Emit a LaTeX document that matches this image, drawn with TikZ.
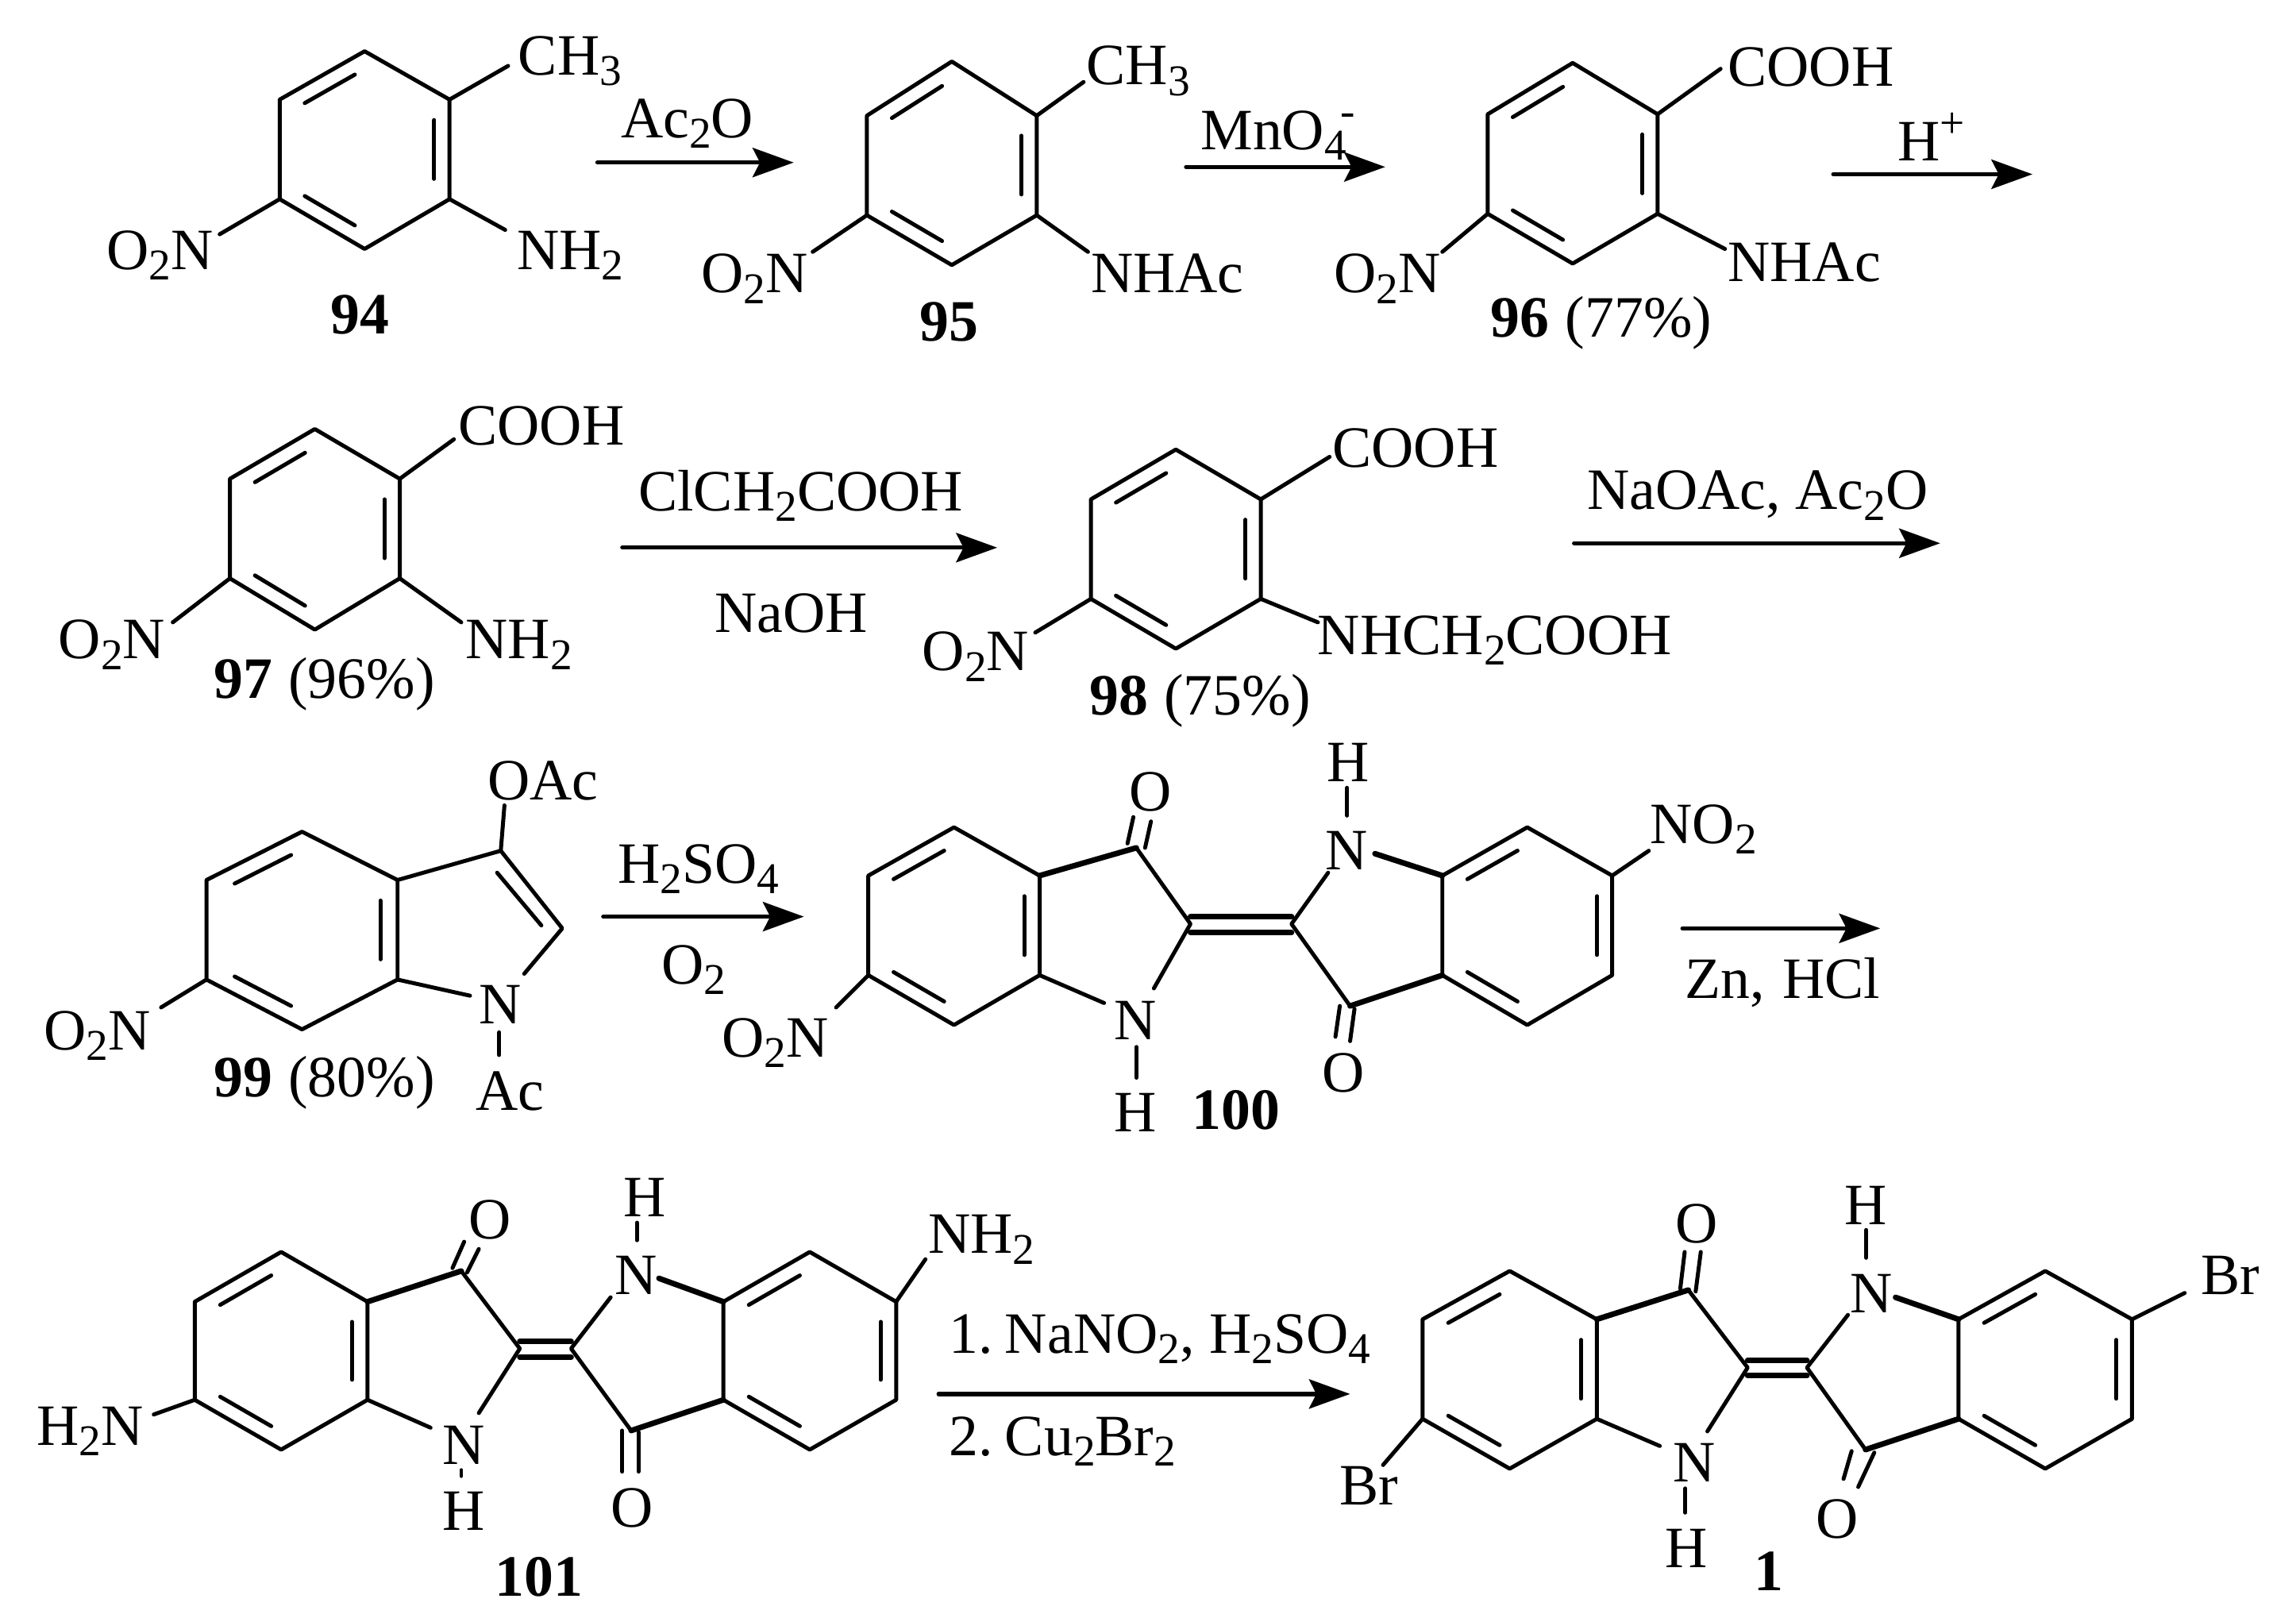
\documentclass[tikz,border=0pt]{standalone}
\usepackage{fontspec}
\setmainfont{Liberation Serif}
\usetikzlibrary{calc,arrows.meta}
\newcommand\sbb[1]{\raisebox{-3.6pt}{\fontsize{15pt}{15pt}\selectfont #1}}
\newcommand\spp[1]{\raisebox{8pt}{\fontsize{15pt}{15pt}\selectfont #1}}
\tikzset{
  bond/.style={line width=1.35pt,line cap=round,line join=round},
  hbond/.style={line width=1.9pt,line cap=round},
  rxnarrow/.style={line width=1.45pt,line cap=round,-{Stealth[length=14pt,width=10pt,inset=2.5pt]}},
  lab/.style={inner sep=0pt,outer sep=0pt,anchor=base west,font=\fontsize{20pt}{22pt}\selectfont}
}
% inner line of a double bond a-b, towards centre c
\newcommand\innerln[3]{%
  \coordinate (tmpa) at ($(#1)!.14!(#2)$);
  \coordinate (tmpb) at ($(#2)!.14!(#1)$);
  \draw[bond] ($(tmpa)!.18!(#3)$) -- ($(tmpb)!.18!(#3)$);}
% benzene ring: prefix, xl, xr, ytop, yupper, ylower, ybottom
\newcommand\ringat[7]{%
  \coordinate (#1t) at ({(#2+#3)/2},#4);
  \coordinate (#1ur) at (#3,#5);
  \coordinate (#1lr) at (#3,#6);
  \coordinate (#1b) at ({(#2+#3)/2},#7);
  \coordinate (#1ll) at (#2,#6);
  \coordinate (#1ul) at (#2,#5);
  \coordinate (#1c) at ({(#2+#3)/2},{(#4+#7)/2});
  \draw[bond] (#1t) -- (#1ur) -- (#1lr) -- (#1b) -- (#1ll) -- (#1ul) -- cycle;
  \innerln{#1ul}{#1t}{#1c}
  \innerln{#1ur}{#1lr}{#1c}
  \innerln{#1ll}{#1b}{#1c}}
\newcommand\subst[4]{\coordinate (#1) at (#3,#4); \draw[bond] (#2) -- (#1);}
\newcommand\rxn[4]{\coordinate (#1a) at (#2,#4); \coordinate (#1b) at (#3,#4); \draw[rxnarrow] (#1a) -- (#1b);}
% single free bond with named ends
\newcommand\oneln[5]{\coordinate (#1a) at (#2,#3); \coordinate (#1b) at (#4,#5); \draw[bond] (#1a) -- (#1b);}
\begin{document}
\begin{tikzpicture}[x=0.5pt,y=-0.5pt]
\useasboundingbox (0,0) rectangle (1568,1102);
% ---- 94
\ringat{a}{191}{307}{35}{68}{136}{170}
\subst{a1}{aur}{347}{45}
\subst{a2}{alr}{345}{157}
\subst{a3}{all}{150}{160}
\node[lab] (t94a) at (354,51) {CH\sbb{3}};
\node[lab] (t94b) at (353,184) {NH\sbb{2}};
\node[lab] (t94c) at (73,184) {O\sbb{2}N};
\node[lab] (t94d) at (226,228) {\textbf{94}};
\rxn{r1}{408}{542}{111}
\node[lab] (r1t) at (424,94) {Ac\sbb{2}O};
% ---- 95
\ringat{b}{592}{708}{42}{79}{147}{181}
\subst{b1}{bur}{740}{56}
\subst{b2}{blr}{743}{172}
\subst{b3}{bll}{555}{172}
\node[lab] (t95a) at (742,58) {CH\sbb{3}};
\node[lab] (t95b) at (745,200) {NHAc};
\node[lab] (t95c) at (479,200) {O\sbb{2}N};
\node[lab] (t95d) at (628,233) {\textbf{95}};
\rxn{r2}{810}{946}{114}
\node[lab] (r2t) at (820,102) {MnO\sbb{4}\kern-2pt\spp{-}};
% ---- 96
\ringat{c}{1016}{1132}{43}{78}{146}{180}
\subst{c1}{cur}{1175}{47}
\subst{c2}{clr}{1178}{170}
\subst{c3}{cll}{985}{172}
\node[lab] (t96a) at (1180,59) {COOH};
\node[lab] (t96b) at (1180,192) {NHAc};
\node[lab] (t96c) at (911,200) {O\sbb{2}N};
\node[lab] (t96d) at (1018,230) {\textbf{96}\kern0.5pt\ (77\%)};
\rxn{r3}{1252}{1388}{119}
\node[lab] (r3t) at (1296,110) {H\spp{+}};
% ---- 97
\ringat{d}{157}{273}{293}{327}{395}{430}
\subst{d1}{dur}{310}{300}
\subst{d2}{dlr}{315}{425}
\subst{d3}{dll}{118}{425}
\node[lab] (t97a) at (313,304) {COOH};
\node[lab] (t97b) at (318,450) {NH\sbb{2}};
\node[lab] (t97c) at (40,450) {O\sbb{2}N};
\node[lab] (t97d) at (146,477) {\textbf{97}\kern0.5pt\ (96\%)};
\rxn{r4}{425}{681}{374}
\node[lab] (r4t) at (436,349) {ClCH\sbb{2}COOH};
\node[lab] (r4u) at (488,432) {NaOH};
% ---- 98
\ringat{e}{745}{861}{307}{341}{409}{443}
\subst{e1}{eur}{908}{312}
\subst{e2}{elr}{900}{425}
\subst{e3}{ell}{707}{432}
\node[lab] (t98a) at (910,319) {COOH};
\node[lab] (t98b) at (900,447) {NHCH\sbb{2}COOH};
\node[lab] (t98c) at (630,458) {O\sbb{2}N};
\node[lab] (t98d) at (744,488) {\textbf{98}\kern0.5pt\ (75\%)};
\rxn{r5}{1075}{1325}{371}
\node[lab] (r5t) at (1084,348) {NaOAc, Ac\sbb{2}O};
% ---- 99
\ringat{f}{141}{271.5}{568}{601}{669}{703}
\coordinate (f3) at (342,581);
\coordinate (f2) at (384,634);
\coordinate (fn) at (358,665);
\coordinate (fm) at (321,680);
\draw[bond] (fur) -- (f3) -- (f2) -- (fn);
\draw[bond] (flr) -- (fm);
\coordinate (ftmpa) at (339.5,596);
\coordinate (ftmpb) at (369.7,632);
\draw[bond] (ftmpa) -- (ftmpb);
\subst{f1}{f3}{344.5}{550}
\subst{f4}{fll}{110}{688}
\oneln{fac}{341}{705}{341}{720.5}
\node[lab] (t99a) at (333,546) {OAc};
\node[lab] (t99n) at (327,699) {N};
\node[lab] (t99b) at (325,758) {Ac};
\node[lab] (t99c) at (30,717) {O\sbb{2}N};
\node[lab] (t99d) at (146,749) {\textbf{99}\kern0.5pt\ (80\%)};
\rxn{r6}{412}{549}{626}
\node[lab] (r6t) at (422,603) {H\sbb{2}SO\sbb{4}};
\node[lab] (r6u) at (452,672) {O\sbb{2}};
% ---- 100
\ringat{g}{593}{710}{565}{598}{666}{700}
\ringat{h}{985}{1101}{565}{598}{666}{700}
\coordinate (g7) at (776,579);
\coordinate (g8) at (813,631);
\coordinate (h8) at (882,631);
\coordinate (h7) at (922,687);
\coordinate (gn) at (788,675);
\coordinate (gm) at (754,685);
\coordinate (hn) at (907,596);
\coordinate (hm) at (939,583);
\draw[hbond] (gur) -- (g7);
\draw[bond] (g7) -- (g8) -- (gn);
\draw[bond] (glr) -- (gm);
\draw[bond] (hn) -- (h8) -- (h7);
\draw[hbond] (h7) -- (hll);
\draw[hbond] (hm) -- (hul);
\draw[hbond] ($(g8)+(0,-5)$) -- ($(h8)+(0,-5)$);
\draw[hbond] ($(g8)+(0,6)$) -- ($(h8)+(0,6)$);
\oneln{goa}{774}{558}{770}{576}
\oneln{gob}{786}{561}{782}{579}
\oneln{hoa}{915}{687}{912}{708}
\oneln{hob}{925}{689}{922}{711}
\oneln{gh}{776}{715}{776}{736}
\oneln{hh}{920}{538}{920}{557}
\subst{g1}{gll}{571}{688}
\subst{h1}{hur}{1126}{581}
\node[lab] (t100a) at (771,554) {O};
\node[lab] (t100b) at (905,594) {N};
\node[lab] (t100c) at (906,534) {H};
\node[lab] (t100d) at (1127,576) {NO\sbb{2}};
\node[lab] (t100e) at (903,746) {O};
\node[lab] (t100f) at (761,710) {N};
\node[lab] (t100g) at (761,773) {H};
\node[lab] (t100h) at (493,722) {O\sbb{2}N};
\node[lab] (t100i) at (814,771) {\textbf{100}};
\rxn{r7}{1149}{1284}{634}
\node[lab] (r7t) at (1151,682) {Zn,\kern1pt\ HCl};
% ---- 101
\ringat{i}{133}{251}{855}{889}{956}{990}
\ringat{j}{494}{612}{855}{889}{956}{990}
\coordinate (i7) at (315,868);
\coordinate (i8) at (355,921);
\coordinate (j8) at (390,921);
\coordinate (j7) at (431,977);
\coordinate (in) at (327,965);
\coordinate (im) at (294,975);
\coordinate (jn) at (417,886);
\coordinate (jm) at (450,873);
\draw[hbond] (iur) -- (i7);
\draw[bond] (i7) -- (i8) -- (in);
\draw[bond] (ilr) -- (im);
\draw[bond] (jn) -- (j8) -- (j7);
\draw[hbond] (j7) -- (jll);
\draw[hbond] (jm) -- (jul);
\draw[hbond] ($(i8)+(0,-5)$) -- ($(j8)+(0,-5)$);
\draw[hbond] ($(i8)+(0,6)$) -- ($(j8)+(0,6)$);
\oneln{ioa}{317}{848}{309}{866}
\oneln{iob}{327}{853}{319}{869}
\oneln{joa}{425}{977}{425}{1005}
\oneln{job}{436}{978}{436}{1005}
\oneln{ih}{315}{1004}{315}{1008}
\oneln{jh}{435}{835}{435}{847}
\subst{i1}{ill}{105}{966}
\subst{j1}{jur}{632}{860}
\node[lab] (t101a) at (320,846) {O};
\node[lab] (t101b) at (420,884) {N};
\node[lab] (t101c) at (426,831) {H};
\node[lab] (t101d) at (634,856) {NH\sbb{2}};
\node[lab] (t101e) at (417,1043) {O};
\node[lab] (t101f) at (302,1000) {N};
\node[lab] (t101g) at (302,1045) {H};
\node[lab] (t101h) at (25,987) {H\sbb{2}N};
\node[lab] (t101i) at (338,1090) {\textbf{101}};
\rxn{r8}{641}{922}{952}
\node[lab] (r8t) at (648,924) {1.\kern-0.8pt\ NaNO\sbb{2}, H\sbb{2}SO\sbb{4}};
\node[lab] (r8u) at (648,994) {2.\kern-0.8pt\ Cu\sbb{2}Br\sbb{2}};
% ---- 1
\ringat{k}{971.5}{1090.5}{868}{901}{969}{1003}
\ringat{l}{1337.5}{1456}{868}{901}{969}{1003}
\coordinate (k7) at (1153,881);
\coordinate (k8) at (1193.5,934);
\coordinate (l8) at (1234,934);
\coordinate (l7) at (1274,990);
\coordinate (kn) at (1166,977.5);
\coordinate (km) at (1133.5,987.5);
\coordinate (ln) at (1262,898);
\coordinate (lm) at (1294.5,886);
\draw[hbond] (kur) -- (k7);
\draw[bond] (k7) -- (k8) -- (kn);
\draw[bond] (klr) -- (km);
\draw[bond] (ln) -- (l8) -- (l7);
\draw[hbond] (l7) -- (lll);
\draw[hbond] (lm) -- (lul);
\draw[hbond] ($(k8)+(0,-5)$) -- ($(l8)+(0,-5)$);
\draw[hbond] ($(k8)+(0,5.5)$) -- ($(l8)+(0,5.5)$);
\oneln{koa}{1150.5}{855}{1147.5}{880}
\oneln{kob}{1161.5}{855}{1158}{882}
\oneln{loa}{1264.5}{991}{1259}{1010}
\oneln{lob}{1280}{992}{1269}{1015.5}
\oneln{kh}{1151}{1016.5}{1151}{1033}
\oneln{lh}{1274.5}{840}{1274.5}{859}
\subst{k1}{kll}{944.5}{1000.5}
\subst{l1}{lur}{1492}{883}
\node[lab] (t1a) at (1144.5,849) {O};
\node[lab] (t1b) at (1263.5,896.5) {N};
\node[lab] (t1c) at (1260,836.5) {H};
\node[lab] (t1d) at (1503,884) {Br};
\node[lab] (t1e) at (1240,1050.5) {O};
\node[lab] (t1f) at (1142.5,1012) {N};
\node[lab] (t1g) at (1137,1070.5) {H};
\node[lab] (t1h) at (915,1027.5) {Br};
\node[lab] (t1i) at (1198,1086) {\textbf{1}};
\end{tikzpicture}
\end{document}
